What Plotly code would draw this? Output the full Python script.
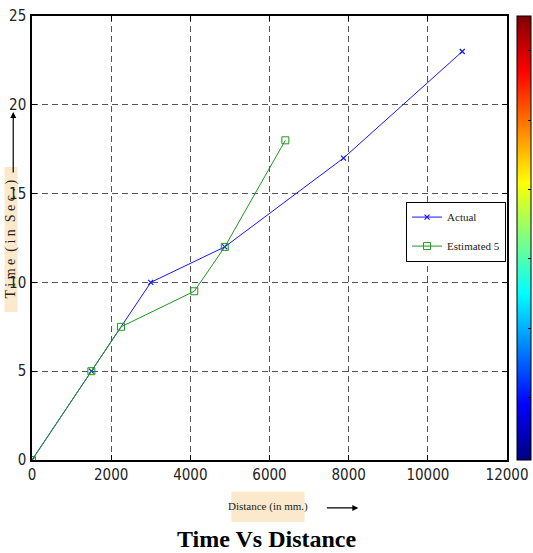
import plotly.graph_objects as go

# ---- data ----
distance_actual = [0, 1500, 3000, 4870, 7870, 10870]
time_actual = [0, 5, 10, 12, 17, 23]
distance_est = [0, 1500, 2250, 4100, 4870, 6400]
time_est = [0, 5, 7.5, 9.5, 12, 18]
x_ticks = [0, 2000, 4000, 6000, 8000, 10000, 12000]
y_ticks = [0, 5, 10, 15, 20, 25]
cbar_ticks = [10, 20, 30, 40, 50, 60]

jet = [[0.0, "rgb(0,0,128)"], [0.125, "rgb(0,0,255)"], [0.375, "rgb(0,255,255)"],
       [0.625, "rgb(255,255,0)"], [0.875, "rgb(255,0,0)"], [1.0, "rgb(128,0,0)"]]

tick_font = dict(family="Liberation Sans Narrow, DejaVu Sans Condensed, Arial Narrow, sans-serif",
                 size=15, color="#222")
serif = "Liberation Serif, Times New Roman, serif"
beige = "#FCE9CC"

fig = go.Figure()

fig.add_trace(go.Scatter(
    x=distance_actual, y=time_actual, mode="lines+markers", name="Actual", legendgroup="a",
    line=dict(color="rgb(20,20,255)", width=1),
    marker=dict(symbol="x-thin", size=5, line=dict(color="rgb(20,20,255)", width=1.2)),
))
fig.add_trace(go.Scatter(
    x=distance_est, y=time_est, mode="lines+markers", name="Estimated 5", legendgroup="b",
    line=dict(color="rgb(30,150,30)", width=1),
    marker=dict(symbol="square-open", size=7, color="rgb(30,150,30)", line=dict(width=1)),
))
# colorbar holder (invisible)
fig.add_trace(go.Scatter(
    x=[distance_actual[0]], y=[time_actual[0]], mode="markers", showlegend=False,
    hoverinfo="skip",
    marker=dict(size=1, opacity=0, color=[1], cmin=1, cmax=65, colorscale=jet, showscale=True,
                colorbar=dict(x=1.021, xanchor="left", xpad=0, ypad=0, y=0.5, yanchor="middle",
                              len=1, lenmode="fraction", thickness=14, thicknessmode="pixels",
                              outlinecolor="black", outlinewidth=1,
                              tickvals=cbar_ticks, ticks="inside", ticklen=3, tickcolor="black",
                              showticklabels=False)),
))

axis_common = dict(showline=True, linecolor="black", linewidth=1.5, mirror="ticks",
                   ticks="inside", ticklen=5, tickcolor="black", tickwidth=1,
                   showgrid=True, gridcolor="#555", gridwidth=1, griddash="6px,4px",
                   zeroline=False, tickfont=tick_font)

fig.update_layout(
    width=533, height=553,
    margin=dict(l=31.5, r=26, t=16, b=93, autoexpand=False),
    paper_bgcolor="white", plot_bgcolor="white",
    xaxis=dict(range=[0, 12000], tickvals=x_ticks, ticktext=[str(v) for v in x_ticks], **axis_common),
    yaxis=dict(range=[0, 25], tickvals=y_ticks, ticktext=[str(v) for v in y_ticks], ticklabelstandoff=1, **axis_common),
    legend=dict(x=0.998, y=0.582, xanchor="right", yanchor="top", bgcolor="white",
                bordercolor="black", borderwidth=1, font=dict(family=serif, size=11, color="#222"),
                itemwidth=30, tracegroupgap=10),
    showlegend=True,
)

# beige label boxes
fig.add_shape(type="rect", xref="paper", yref="paper", x0=0.4196, x1=0.5737, y0=-0.1396, y1=-0.0714,
              fillcolor=beige, line=dict(width=0), layer="below")
fig.add_shape(type="rect", xref="paper", yref="paper", x0=-0.0578, x1=-0.0305, y0=0.3333, y1=0.6599,
              fillcolor=beige, line=dict(width=0), layer="below")

# axis labels and title
fig.add_annotation(xref="paper", yref="paper", x=0.4966, y=-0.1055, xanchor="center", yanchor="middle",
                   text="Distance (in mm.)", showarrow=False,
                   font=dict(family=serif, size=11, color="#222"))
fig.add_annotation(xref="paper", yref="paper", x=0.687, y=-0.108, ax=-33, ay=0,
                   showarrow=True, arrowhead=2, arrowsize=1, arrowwidth=1.2, arrowcolor="black", text="")
fig.add_annotation(xref="paper", yref="paper", x=-0.0442, y=0.4966, xanchor="center", yanchor="middle",
                   text="T i m e  ( i n  S e c . )", textangle=-90, showarrow=False,
                   font=dict(family=serif, size=14, color="#222"))
fig.add_annotation(xref="paper", yref="paper", x=-0.0395, y=0.784, ax=0, ay=62,
                   showarrow=True, arrowhead=2, arrowsize=1, arrowwidth=1.2, arrowcolor="black", text="")
fig.add_annotation(xref="paper", yref="paper", x=0.493, y=-0.178, xanchor="center", yanchor="middle",
                   text="<b>Time Vs Distance</b>", showarrow=False,
                   font=dict(family=serif, size=24, color="black"))

fig.write_html("out.html")
